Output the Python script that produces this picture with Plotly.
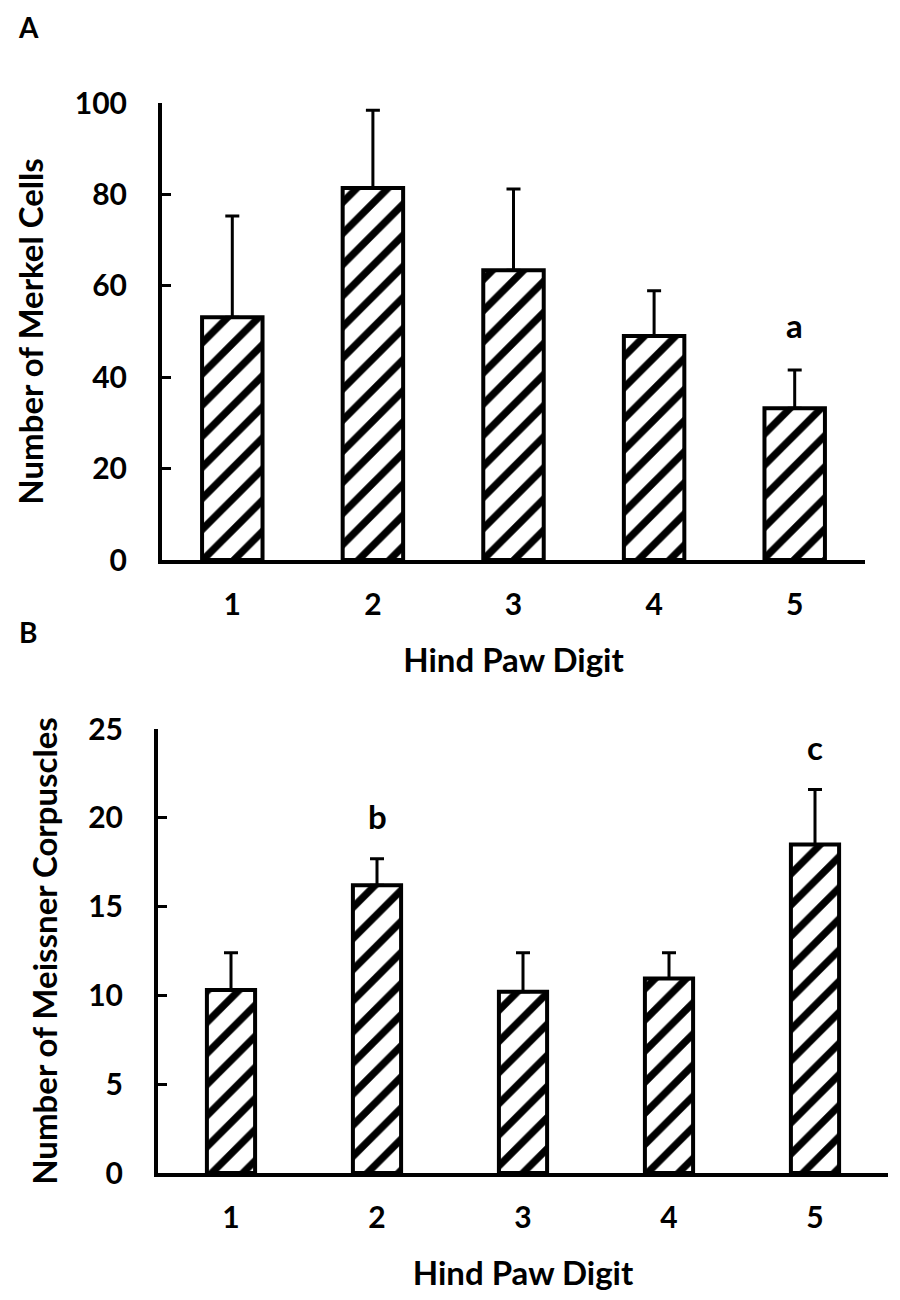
"""
Hind paw digit bar charts (Merkel cells, Meissner corpuscles)
plotting method: plotly
"""

import plotly.graph_objects as go

# ============================================================================
# DATA
# ============================================================================

digits = [1, 2, 3, 4, 5]
digit_labels = ["1", "2", "3", "4", "5"]

merkel_mean = [53.1, 81.4, 63.4, 49.0, 33.2]
merkel_err = [22.2, 17.0, 17.8, 9.9, 8.4]

meissner_mean = [10.3, 16.2, 10.2, 10.95, 18.5]
meissner_err = [2.1, 1.5, 2.2, 1.45, 3.1]

# significance letters: (panel, digit, y, text)
sig_letters = [("A", 5, 51.5, "a"), ("B", 2, 20.1, "b"), ("B", 5, 24.0, "c")]

FONT = "Lato"
W, H = 900, 1300
OFF = 8  # the page body adds an 8px margin, so shift everything back by it


def px_x(p):
    return (p - OFF) / W


def px_y(p):
    return 1 - (p - OFF) / H


def add_bars(fig, means, errs, xaxis, yaxis, width):
    fig.add_trace(
        go.Bar(x=digits, y=means, width=width,
               xaxis=xaxis, yaxis=yaxis,
               marker=dict(color="white",
                           line=dict(color="black", width=4),
                           pattern=dict(shape="/", size=22, solidity=0.33,
                                        fgcolor="black", bgcolor="white",
                                        fgopacity=1)),
               error_y=dict(type="data", array=errs, symmetric=False,
                            arrayminus=[0] * len(errs),
                            color="black", thickness=3, width=7),
               showlegend=False)
    )


fig = go.Figure()
add_bars(fig, merkel_mean, merkel_err, "x", "y", 0.43)
add_bars(fig, meissner_mean, meissner_err, "x2", "y2", 0.33)

tick_font = dict(family=FONT, size=30, color="black", weight="bold")
title_font = dict(family=FONT, size=33, color="black", weight="bold")

xcommon = dict(range=[0.5, 5.5], tickvals=digits, ticktext=digit_labels,
               showline=True, linecolor="black", linewidth=4, ticks="",
               showgrid=False, zeroline=False, tickfont=tick_font,
               ticklabelstandoff=15, automargin=False,
               title=dict(text="Hind Paw Digit", font=title_font, standoff=30))
ycommon = dict(showline=True, linecolor="black", linewidth=4, ticks="inside",
               ticklen=9, tickwidth=3, tickcolor="black", showgrid=False,
               zeroline=False, tickfont=tick_font, ticklabelstandoff=25,
               automargin=False)

fig.update_layout(
    width=W, height=H,
    margin=dict(l=0, r=0, t=0, b=0),
    paper_bgcolor="white", plot_bgcolor="white",
    font=dict(family=FONT, color="black", weight="bold"),
    xaxis=dict(domain=[px_x(162), px_x(865)], anchor="y", **xcommon),
    yaxis=dict(domain=[px_y(560), px_y(103)], anchor="x",
               range=[0, 100], tickvals=[0, 20, 40, 60, 80, 100],
               title=dict(text="Number of Merkel Cells", font=title_font, standoff=22),
               **ycommon),
    xaxis2=dict(domain=[px_x(158), px_x(888)], anchor="y2", **xcommon),
    yaxis2=dict(domain=[px_y(1173), px_y(729)], anchor="x2",
                range=[0, 25], tickvals=[0, 5, 10, 15, 20, 25],
                title=dict(text="Number of Meissner Corpuscles", font=title_font, standoff=22),
                **ycommon),
)

# panel letters
fig.add_annotation(text="A", xref="paper", yref="paper",
                   x=px_x(28), y=1, xanchor="center", yanchor="top",
                   showarrow=False,
                   font=dict(family=FONT, size=28, color="black", weight="bold"))
fig.add_annotation(text="B", xref="paper", yref="paper",
                   x=px_x(28), y=px_y(632), xanchor="center", yanchor="middle",
                   showarrow=False,
                   font=dict(family=FONT, size=28, color="black", weight="bold"))

# significance letters
for panel, digit, yval, txt in sig_letters:
    ax = "" if panel == "A" else "2"
    fig.add_annotation(text=txt, x=digit, y=yval, xref="x" + ax, yref="y" + ax,
                       showarrow=False,
                       font=dict(family=FONT, size=33, color="black", weight="bold"))

fig.write_html("out.html")
